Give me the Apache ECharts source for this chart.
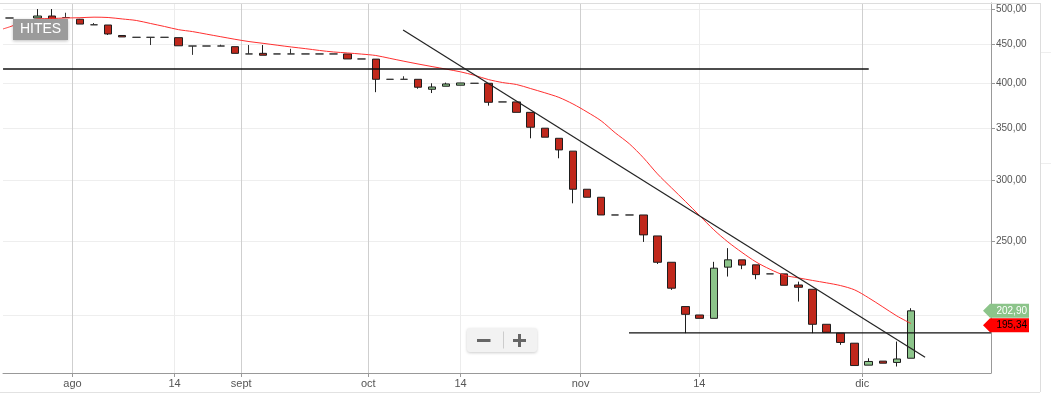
<!DOCTYPE html>
<html><head><meta charset="utf-8">
<script src="https://cdn.jsdelivr.net/npm/echarts@6/dist/echarts.min.js"></script>
<style>html,body{margin:0;padding:0;background:#fff}#c{width:1051px;height:398px}</style>
</head><body><div id="c"></div><script>
// ---- data (session index 0..64) ----
const open = [486.8,481,486.8,489.7,487.5,485,477,476.7,462,459.5,
  459.5,459.5,459,447.7,447.7,447.7,446.8,437.2,438,437.2,
  437.2,437.2,437.2,437.2,437.2,430.7,430.5,405.3,405.3,405.3,
  393.4,397,398.2,400.5,400.5,378.8,378.8,367.2,350.2,339.8,
  327,291.8,284.9,270.2,270.2,270.2,253.8,234.6,205.5,200.4,
  198.4,231.2,236.3,232.8,226.6,226.6,219.2,216.4,194.9,189.8,
  184.2,172.5,174.6,173.9,176.1];
const close = [486.8,481,489.7,485.4,487.5,478,477,464.1,460,459.5,
  459.5,459.5,448,447.7,447.7,447.7,438,437.2,435.5,437.2,
  437.2,437.2,437.2,437.2,430.7,430.7,405.3,405.3,405.3,395.8,
  396.1,399.7,400.9,400.5,378.4,378.8,367.2,351.2,340.9,328.2,
  291.8,284.9,270.2,270.2,270.2,254.6,234.6,217.1,200.8,198.4,
  230.5,236.3,232.6,226.1,226.6,219,217.7,194.9,190.3,184.6,
  172.3,174.4,173.5,175.7,202.9];
const low = [486.8,481,486.8,485.4,487.5,478,477,462.7,460,459.5,
  449,459.5,448,436,447.7,447.7,438,437.2,435.5,437.2,
  437.2,437.2,437.2,437.2,430.7,430.7,390,405.3,405.3,394,
  389,397,398.2,400.5,374.6,378.8,367.2,339.8,340.9,320.1,
  279.8,284.9,270.2,270.2,270.2,249.3,233.4,216,189.8,198.4,
  198.4,224.8,229.8,223,226.6,219,208.6,189.8,190.3,183.3,
  172.3,172.5,173.5,171.8,176.1];
const high = [486.8,481,500,500,494.5,485.5,479.5,476.7,462,459.5,
  459.5,459.5,459,447.7,447.7,449.5,446.8,449,449,437.2,
  444,437.2,437.2,437.2,437.2,430.7,430.5,405.3,409,405.3,
  400.5,401.3,400.9,400.5,400.5,378.8,378.8,367.2,350.2,339.8,
  327,291.8,284.9,270.2,270.2,270.2,253.8,234.6,205.5,200.4,
  234.9,244.7,236.3,232.8,226.6,226.6,221.4,216.4,194.9,189.8,
  184.2,176.1,174.6,185.1,204.5];
const ma = [474,481,485.4,486,486.8,487.2,488,487.5,485.4,483.2,
  478.9,474.6,470.1,467.4,463.8,460.3,456.8,453.7,451.3,448.8,
  446.4,444.2,441.8,439.8,438.5,437,435.2,431.5,427.8,424.3,
  421,417.8,414.5,410.2,405,401.4,399,394.2,389.3,384,
  376.5,367.6,358,345.4,334.3,320.6,305.5,293,281.2,269.6,
  258.5,249.3,241.6,234.8,229.7,225.7,223.9,222.2,220.6,218.8,
  216,210.9,205.3,199.8,195.34];
const maLead = 471.1;
const upperX = [-0.46, 61.0], upperY = [418, 418];
const lowerX = [43.98, 69.68], lowerY = [190, 190];
const trendX = [27.94, 65.0], trendY = [469.7, 176.6];
const xLabels = ['ago','14','sept','oct','14','nov','14','dic'];
const xLabelPos = [4.47, 11.72, 16.45, 25.47, 32.02, 40.54, 48.97, 60.54];
const xLabelMajor = [true,false,true,true,false,true,false,true];
const yGrid = [200,250,300,350,400,450,500];
const yLabels = [250,300,350,400,450,500];
const xMin = -0.4636, xMax = 69.68;
const yMin = 168.5, yMax = 509.1;
const lastClose = 202.90, lastMa = 195.34;

const candles = open.map((o,i)=>[i,o,close[i],low[i],high[i]]);
const maData = [[xMin, maLead]].concat(ma.map((v,i)=>[i,v]));
const pair = (xs,ys)=>xs.map((x,i)=>[x,ys[i]]);
const fmt = v => v.toFixed(2).replace('.', ',');
const FONT = '"Liberation Sans", Arial, Helvetica, sans-serif';

const chart = echarts.init(document.getElementById('c'), null, {renderer:'canvas'});
const lineSeries = (data, color, w, extra) => Object.assign({
  type:'line', data, xAxisIndex:0, yAxisIndex:0, symbol:'none', silent:true,
  lineStyle:{color, width:w}, z:5, animation:false
}, extra||{});

chart.setOption({
  animation:false,
  backgroundColor:'#fff',
  grid:{left:3, right:60, top:3, bottom:25, containLabel:false, outerBoundsMode:'none'},
  xAxis:{
    type:'value', min:xMin, max:xMax,
    axisLine:{show:true, onZero:false, lineStyle:{color:'#999', width:1}},
    axisTick:{show:true, customValues:xLabelPos, length:4, lineStyle:{color:'#999'}},
    axisLabel:{show:true, customValues:xLabelPos, margin:5, color:'#555', fontSize:11, fontFamily:FONT,
      formatter:v=>{ const i = xLabelPos.findIndex(p=>Math.abs(p-v)<1e-6); return i>=0?xLabels[i]:''; }},
    splitLine:{show:true, lineStyle:{color:xLabelMajor.map(m=>m?'#cfcfcf':'#ececec'), width:1}}
  },
  yAxis:[{
    type:'log', logBase:10, min:yMin, max:yMax, position:'right',
    axisLine:{show:false, onZero:false}, axisTick:{show:false}, axisLabel:{show:false}, splitLine:{show:false}
  },{
    type:'value', min:Math.log10(yMin), max:Math.log10(yMax), position:'right',
    axisLine:{show:true, onZero:false, lineStyle:{color:'#999', width:1}},
    axisTick:{show:true, customValues:yGrid.map(Math.log10), length:4, lineStyle:{color:'#999'}},
    axisLabel:{show:true, customValues:yLabels.map(Math.log10), margin:5, color:'#555', fontSize:10, fontFamily:FONT,
      formatter:v=>fmt(Math.round(Math.pow(10,v)*100)/100)},
    splitLine:{show:true, lineStyle:{color:'#eeeeee', width:1}}
  }],
  series:[
    {type:'candlestick', xAxisIndex:0, yAxisIndex:0, data:candles, barWidth:8, z:3,
     itemStyle:{color:'#8cc48a', color0:'#c0281c', borderColor:'#1e1e1e', borderColor0:'#1e1e1e', borderColorDoji:'#333', borderWidth:1}},
    lineSeries(maData, '#ff3030', 1, {smooth:0.3}),
    lineSeries(pair(upperX, upperY), '#111', 1.3),
    lineSeries(pair(lowerX, lowerY), '#111', 1.3),
    lineSeries(pair(trendX, trendY), '#222', 1.2)
  ]
});

const yC = chart.convertToPixel({yAxisIndex:0}, lastClose);
const yR = yC + 14.5;
function tag(yc, fill, textColor, label){
  return {type:'group', z:100, zlevel:1, children:[
    {type:'polygon', zlevel:1, shape:{points:[[983,yc],[990,yc-7],[1029,yc-7],[1029,yc+7],[990,yc+7]]}, style:{fill}},
    {type:'text', zlevel:1, x:1027, y:yc, style:{text:label, fill:textColor, font:'10px '+FONT, align:'right', verticalAlign:'middle'}}
  ]};
}
chart.setOption({graphic:[
  {type:'line', z:50, shape:{x1:0,y1:3.5,x2:1040,y2:3.5}, style:{stroke:'#dddddd', lineWidth:1}},
  {type:'line', z:50, shape:{x1:1040.5,y1:3,x2:1040.5,y2:392}, style:{stroke:'#dddddd', lineWidth:1}},
  {type:'line', z:50, shape:{x1:0,y1:392.5,x2:1040,y2:392.5}, style:{stroke:'#e2e2e2', lineWidth:1}},
  {type:'line', z:50, shape:{x1:1041,y1:52.5,x2:1051,y2:52.5}, style:{stroke:'#eeeeee', lineWidth:1}},
  {type:'line', z:50, shape:{x1:1041,y1:163.5,x2:1051,y2:163.5}, style:{stroke:'#eeeeee', lineWidth:1}},
  {type:'rect', z:100, shape:{x:13,y:19,width:55,height:21}, style:{fill:'#9b9b9b', shadowBlur:3, shadowColor:'rgba(0,0,0,0.25)', shadowOffsetY:1}},
  {type:'text', z:101, x:40.5, y:29.5, style:{text:'HITES', fill:'#fff', font:'14px '+FONT, align:'center', verticalAlign:'middle'}},
  {type:'rect', z:100, shape:{x:467,y:328,width:70,height:24,r:3}, style:{fill:'#f2f2f2', shadowBlur:3, shadowColor:'rgba(0,0,0,0.2)', shadowOffsetY:1}},
  {type:'rect', z:101, shape:{x:477,y:339,width:13.5,height:3}, style:{fill:'#666'}},
  {type:'line', z:101, shape:{x1:503.5,y1:331.5,x2:503.5,y2:348.5}, style:{stroke:'#cccccc', lineWidth:1}},
  {type:'rect', z:101, shape:{x:513,y:339,width:13,height:3}, style:{fill:'#666'}},
  {type:'rect', z:101, shape:{x:518,y:334,width:3,height:13}, style:{fill:'#666'}},
  tag(yC, '#8cc48a', '#ffffff', fmt(lastClose)),
  tag(yR, '#ff0000', '#000000', fmt(lastMa))
]});
</script></body></html>
